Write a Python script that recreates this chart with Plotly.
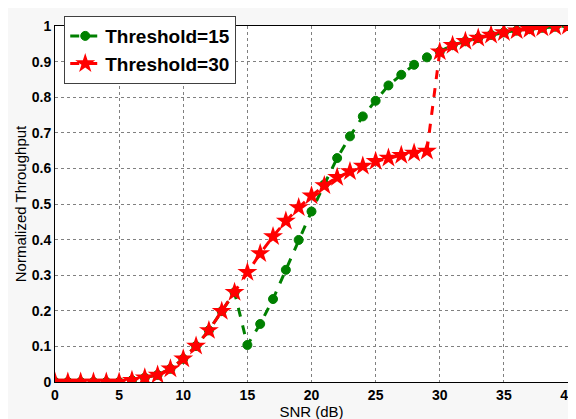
import plotly.graph_objects as go

snr = list(range(0, 41))

thr30 = [0, 0, 0, 0, 0, 0, 0.005, 0.012, 0.02, 0.037, 0.065, 0.101, 0.145, 0.199, 0.252,
         0.308, 0.361, 0.409, 0.452, 0.49, 0.523, 0.552, 0.575, 0.591, 0.607, 0.62,
         0.629, 0.637, 0.643, 0.649, 0.928, 0.946, 0.957, 0.966, 0.975, 0.982, 0.987,
         0.991, 0.995, 0.998, 1.0]

thr15 = [0, 0, 0, 0, 0, 0, 0.005, 0.012, 0.02, 0.037, 0.065, 0.101, 0.145, 0.199, 0.252,
         0.104, 0.163, 0.233, 0.315, 0.399, 0.479, 0.555, 0.629, 0.69, 0.746, 0.79,
         0.833, 0.863, 0.891, 0.912, 0.928, 0.946, 0.957, 0.966, 0.975, 0.982, 0.987,
         0.991, 0.995, 0.998, 1.0]

x_ticks = [0, 5, 10, 15, 20, 25, 30, 35, 40]
y_ticks = [0, 0.1, 0.2, 0.3, 0.4, 0.5, 0.6, 0.7, 0.8, 0.9, 1]
y_tick_text = ["0", "0.1", "0.2", "0.3", "0.4", "0.5", "0.6", "0.7", "0.8", "0.9", "1"]

fig = go.Figure()
fig.add_trace(go.Scatter(
    x=snr, y=thr15, mode="lines+markers", name="Threshold=15",
    line=dict(color="#008000", width=3, dash="dash"),
    marker=dict(symbol="circle", size=9, color="#008000",
                line=dict(color="#008000", width=1)),
))
fig.add_trace(go.Scatter(
    x=snr, y=thr30, mode="lines+markers", name="Threshold=30",
    line=dict(color="#ff0000", width=3, dash="dash"),
    marker=dict(symbol="star", size=15, color="#ff0000",
                line=dict(color="#ff0000", width=0)),
))

axis_common = dict(
    showline=True, linecolor="#000000", linewidth=1, mirror=True,
    showgrid=True, gridcolor="#808080", griddash="dot", gridwidth=1,
    zeroline=False, ticks="",
    tickfont=dict(family="Arial, Liberation Sans", size=14, color="#000000", weight="bold"),
)

fig.update_layout(
    width=576, height=419,
    margin=dict(l=47, r=11, t=8, b=45),
    paper_bgcolor="#f7f7f7", plot_bgcolor="#ffffff",
    showlegend=True,
    legend=dict(
        x=0.018, y=1.028, xanchor="left", yanchor="top",
        bgcolor="#ffffff", bordercolor="#404040", borderwidth=1,
        font=dict(family="Arial, Liberation Sans", size=19, color="#000000", weight="bold"),
        itemwidth=30, tracegroupgap=0,
    ),
    xaxis=dict(range=[0, 40], tickvals=x_ticks,
               title=dict(text="SNR (dB)", standoff=1,
                          font=dict(family="Arial, Liberation Sans", size=15, color="#000000")),
               **axis_common),
    yaxis=dict(range=[0, 1], tickvals=y_ticks, ticktext=y_tick_text,
               title=dict(text="Normalized Throughput", standoff=1,
                          font=dict(family="Arial, Liberation Sans", size=15, color="#000000")),
               **axis_common),
)

fig.write_html("out.html")
